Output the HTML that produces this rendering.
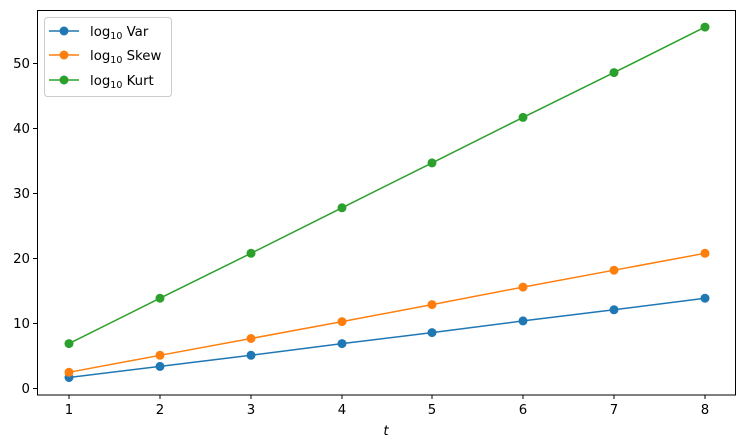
<!DOCTYPE html><html><head><style>body{margin:0;background:#fff}svg{display:block;font-family:"DejaVu Sans","Liberation Sans",sans-serif}</style></head><body>
<svg width="744" height="448" viewBox="0 0 744 448" xmlns="http://www.w3.org/2000/svg">
<g font-size="13.3" fill="#000">
<g stroke="#000" stroke-width="1">
<line x1="69" y1="395" x2="69" y2="399"/><line x1="160" y1="395" x2="160" y2="399"/><line x1="251" y1="395" x2="251" y2="399"/><line x1="342" y1="395" x2="342" y2="399"/><line x1="432" y1="395" x2="432" y2="399"/><line x1="523" y1="395" x2="523" y2="399"/><line x1="614" y1="395" x2="614" y2="399"/><line x1="705" y1="395" x2="705" y2="399"/>
<line x1="33" y1="388.5" x2="37" y2="388.5"/><line x1="33" y1="323.5" x2="37" y2="323.5"/><line x1="33" y1="258.5" x2="37" y2="258.5"/><line x1="33" y1="193.5" x2="37" y2="193.5"/><line x1="33" y1="128.5" x2="37" y2="128.5"/><line x1="33" y1="63.5" x2="37" y2="63.5"/>
</g>
<g text-anchor="middle"><text x="69" y="414">1</text><text x="160" y="414">2</text><text x="251" y="414">3</text><text x="342" y="414">4</text><text x="432" y="414">5</text><text x="523" y="414">6</text><text x="614" y="414">7</text><text x="705" y="414">8</text>
<text x="386" y="435" font-style="italic">t</text></g>
<g text-anchor="end"><text x="30" y="393">0</text><text x="30" y="328">10</text><text x="30" y="263">20</text><text x="30" y="198">30</text><text x="30" y="133">40</text><text x="30" y="68">50</text></g>
</g>
<g fill="none" stroke-width="1.5">
<polyline stroke="#1f77b4" points="69,377.5 160,366.4 251,355.3 342,343.6 432,332.6 523,320.9 614,309.8 705,298.2"/>
<polyline stroke="#ff7f0e" points="69,372.3 160,355.3 251,338.5 342,321.6 432,304.6 523,287.1 614,270.2 705,253.3"/>
<polyline stroke="#2ca02c" points="69,343.6 160,298.2 251,253.3 342,207.8 432,162.9 523,117.4 614,72.6 705,27.1"/>
</g>
<g fill="#1f77b4"><circle cx="69" cy="377.5" r="4.5"/><circle cx="160" cy="366.4" r="4.5"/><circle cx="251" cy="355.3" r="4.5"/><circle cx="342" cy="343.6" r="4.5"/><circle cx="432" cy="332.6" r="4.5"/><circle cx="523" cy="320.9" r="4.5"/><circle cx="614" cy="309.8" r="4.5"/><circle cx="705" cy="298.2" r="4.5"/></g>
<g fill="#ff7f0e"><circle cx="69" cy="372.3" r="4.5"/><circle cx="160" cy="355.3" r="4.5"/><circle cx="251" cy="338.5" r="4.5"/><circle cx="342" cy="321.6" r="4.5"/><circle cx="432" cy="304.6" r="4.5"/><circle cx="523" cy="287.1" r="4.5"/><circle cx="614" cy="270.2" r="4.5"/><circle cx="705" cy="253.3" r="4.5"/></g>
<g fill="#2ca02c"><circle cx="69" cy="343.6" r="4.5"/><circle cx="160" cy="298.2" r="4.5"/><circle cx="251" cy="253.3" r="4.5"/><circle cx="342" cy="207.8" r="4.5"/><circle cx="432" cy="162.9" r="4.5"/><circle cx="523" cy="117.4" r="4.5"/><circle cx="614" cy="72.6" r="4.5"/><circle cx="705" cy="27.1" r="4.5"/></g>
<rect x="37.5" y="10.5" width="698" height="384.5" fill="none" stroke="#000" stroke-width="1"/>
<rect x="44.5" y="17.5" width="127" height="79" rx="3" fill="#fff" fill-opacity="0.8" stroke="#ccc"/>
<g stroke-width="1.5"><line x1="49" y1="31" x2="79" y2="31" stroke="#1f77b4"/><line x1="49" y1="55" x2="79" y2="55" stroke="#ff7f0e"/><line x1="49" y1="80" x2="79" y2="80" stroke="#2ca02c"/></g>
<circle cx="64" cy="31" r="4.5" fill="#1f77b4"/><circle cx="64" cy="55" r="4.5" fill="#ff7f0e"/><circle cx="64" cy="80" r="4.5" fill="#2ca02c"/>
<g font-size="13.3"><text x="90" y="36">log<tspan font-size="9.5" dy="3">10</tspan><tspan dy="-3"> Var</tspan></text>
<text x="90" y="60">log<tspan font-size="9.5" dy="3">10</tspan><tspan dy="-3"> Skew</tspan></text>
<text x="90" y="85">log<tspan font-size="9.5" dy="3">10</tspan><tspan dy="-3"> Kurt</tspan></text></g>
</svg></body></html>
